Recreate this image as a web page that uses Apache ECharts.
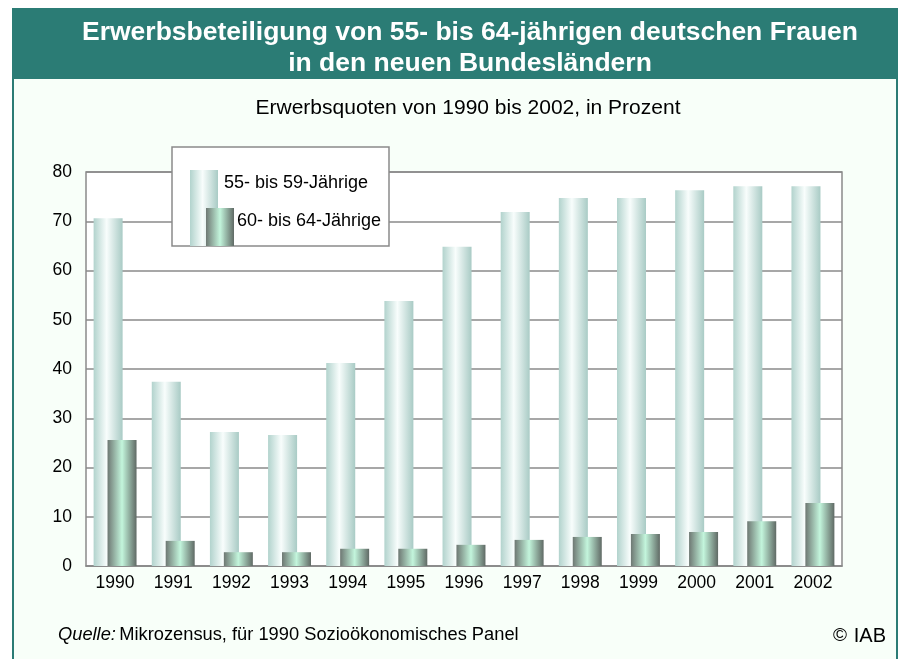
<!DOCTYPE html>
<html><head><meta charset="utf-8">
<script src="https://cdn.jsdelivr.net/npm/echarts@6/dist/echarts.min.js"></script>
<style>html,body{margin:0;padding:0;background:#fff}#c{width:899px;height:659px}</style>
</head><body><div id="c"></div>
<script>
const years = ['1990','1991','1992','1993','1994','1995','1996','1997','1998','1999','2000','2001','2002'];
const age55to59 = [70.6, 37.4, 27.2, 26.6, 41.2, 53.8, 64.8, 71.9, 74.7, 74.7, 76.3, 77.1, 77.1];
const age60to64 = [25.6, 5.1, 2.8, 2.8, 3.5, 3.5, 4.3, 5.3, 5.9, 6.5, 6.9, 9.1, 12.8];
const yTicks = { min: 0, max: 80, interval: 10 };
const seriesNames = ['55- bis 59-Jährige', '60- bis 64-Jährige'];

const FONT = '"Liberation Sans", Arial, sans-serif';
const lightGrad = () => new echarts.graphic.LinearGradient(0,0,1,0,[
  {offset:0,color:'#b2d3cd'},{offset:0.45,color:'#f8fdfc'},{offset:1,color:'#a9cbc5'}]);
const darkGrad = () => new echarts.graphic.LinearGradient(0,0,1,0,[
  {offset:0,color:'#6e7873'},{offset:0.5,color:'#c3f5dc'},{offset:1,color:'#606a65'}]);

const chart = echarts.init(document.getElementById('c'), null, {renderer:'canvas'});
chart.setOption({
  backgroundColor: '#ffffff',
  animation: false,
  textStyle: { fontFamily: FONT },
  title: [
    { text: 'Erwerbsbeteiligung von 55- bis 64-jährigen deutschen Frauen\nin den neuen Bundesländern',
      left: 465, top: 12, textAlign: 'center',
      textStyle: { color:'#ffffff', fontSize: 26.5, fontWeight:'bold', lineHeight: 31, fontFamily: FONT } },
    { text: 'Erwerbsquoten von 1990 bis 2002, in Prozent',
      left: 463, top: 93, textAlign: 'center',
      textStyle: { color:'#000', fontSize: 21, fontWeight:'normal', fontFamily: FONT } }
  ],
  grid: { left: 86, right: 57, top: 172, bottom: 93, show: true, backgroundColor:'#ffffff', borderColor:'#8a8a8a', borderWidth: 1.5 },
  xAxis: {
    type: 'category', data: years,
    axisLine: { lineStyle: { color:'#8a8a8a', width: 1.5 } },
    axisTick: { show: false },
    axisLabel: { color:'#000', fontSize: 17.5, margin: 8, fontFamily: FONT }
  },
  yAxis: {
    type: 'value', min: yTicks.min, max: yTicks.max, interval: yTicks.interval,
    axisLine: { show: false }, axisTick: { show: false },
    splitLine: { lineStyle: { color:'#8a8a8a', width: 1.5 } },
    axisLabel: { color:'#000', fontSize: 17.5, margin: 14, fontFamily: FONT }
  },
  series: [
    { name: seriesNames[0], type:'bar', data: age55to59, barWidth: 29, barGap: '-52%',
      itemStyle: { color: lightGrad() } },
    { name: seriesNames[1], type:'bar', data: age60to64, barWidth: 29,
      itemStyle: { color: darkGrad() } }
  ],
  graphic: [
    { type:'rect', z: -10, silent:true, shape:{x:13,y:9,width:884,height:660},
      style:{ fill:'#f8fff9', stroke:'#2b7c75', lineWidth:2 } },
    { type:'rect', z: -5, silent:true, shape:{x:12,y:9,width:886,height:70},
      style:{ fill:'#2b7c75' } },
    { type:'rect', z: 100, shape:{x:172,y:147,width:217,height:99}, style:{ fill:'#ffffff', stroke:'#8a8a8a', lineWidth:1.5 } },
    { type:'rect', z: 101, shape:{x:190,y:170,width:28,height:76}, style:{ fill: lightGrad() } },
    { type:'rect', z: 102, shape:{x:206,y:208,width:28,height:38}, style:{ fill: darkGrad() } },
    { type:'text', z: 103, style:{ x:224, y:183, text: seriesNames[0], fill:'#000', font:'18px '+FONT, verticalAlign:'middle' } },
    { type:'text', z: 103, style:{ x:237, y:221, text: seriesNames[1], fill:'#000', font:'18px '+FONT, verticalAlign:'middle' } },
    { type:'text', z: 100, style:{ x:58, y:635, verticalAlign:'middle',
      text:'{i|Quelle:} {n|Mikrozensus, für 1990 Sozioökonomisches Panel}',
      rich:{ i:{ fontStyle:'italic', fontSize:18.3, fontFamily:FONT, fill:'#000' }, n:{ fontSize:18.3, fontFamily:FONT, fill:'#000' } } } },
    { type:'text', z: 100, style:{ x:886, y:636, align:'right', verticalAlign:'middle',
      text:'{c|©}  {n|IAB}',
      rich:{ c:{ fontSize:19, fontFamily:FONT, fill:'#000' }, n:{ fontSize:20, fontFamily:FONT, fill:'#000' } } } }
  ]
});
</script></body></html>
